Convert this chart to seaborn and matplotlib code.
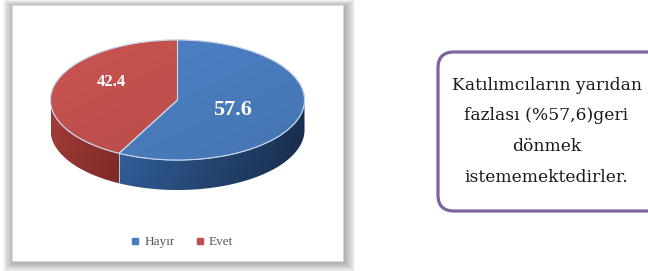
import numpy as np
import matplotlib
matplotlib.use("Agg")
import matplotlib.pyplot as plt
import matplotlib.colors as mcolors
from matplotlib.patches import Rectangle, FancyBboxPatch, Polygon, PathPatch
from matplotlib.lines import Line2D
import seaborn as sns

# ---------------- data ----------------
categories = ["Hayır", "Evet"]
values = [57.6, 42.4]
top_colors = ["#4a7dbf", "#c0504d"]
side_light = ["#3566a6", "#a83d3a"]
side_dark = ["#1b3152", "#8c2f2c"]
note_lines = ["Katılımcıların yarıdan", "fazlası (%57,6)geri", "dönmek", "istememektedirler."]

sns.set_theme(style="white")
plt.rcParams["font.family"] = ["Liberation Serif", "DejaVu Serif"]

W, H = 648, 271
fig = plt.figure(figsize=(W / 100, H / 100), dpi=100)
fig.patch.set_facecolor("white")

# background axes in pixel coordinates
bg = fig.add_axes([0, 0, 1, 1])
bg.set_xlim(0, W)
bg.set_ylim(H, 0)
bg.axis("off")

# chart frame with soft shadow
fx0, fy0, fx1, fy1 = 12, 5, 343, 261
for i in range(12, 0, -1):
    bg.add_patch(Rectangle((fx0 - i * 0.9 + 1.5, fy0 - i * 0.6 + 1.5),
                           (fx1 - fx0) + i * 1.8, (fy1 - fy0) + i * 1.4,
                           facecolor="black", edgecolor="none", alpha=0.026, zorder=1))
bg.add_patch(Rectangle((fx0, fy0), fx1 - fx0, fy1 - fy0, facecolor="white",
                       edgecolor="#d9d9d9", lw=0.6, zorder=2))

# note box
bg.add_patch(FancyBboxPatch((452, 66), 210, 131,
                            boxstyle="round,pad=14,rounding_size=16",
                            facecolor="white", edgecolor="#7f63a1", lw=2.3, zorder=2))
for k, line in enumerate(note_lines):
    bg.text(546.5, 85 + k * 30.7, line, ha="center", va="center",
            fontsize=12.3, color="#1a1a1a", zorder=3, family="DejaVu Serif")

# ---------------- pie axes (elliptical) ----------------
cx, cy, rx, ry = 177.5, 100.0, 127.0, 60.0
depth = 0.5  # in y-units of the pie
xl, xr = -1.05, 1.05
yb, yt = -1.6, 1.05
left_px = cx + xl * rx
top_px = cy - yt * ry
wpx = (xr - xl) * rx
hpx = (yt - yb) * ry
pax = fig.add_axes([left_px / W, (H - (top_px + hpx)) / H, wpx / W, hpx / H])
pax.patch.set_alpha(0)

wedges, _ = pax.pie(values, colors=top_colors, startangle=90, counterclock=False,
                    radius=1.0, wedgeprops=dict(edgecolor="#c9d6ea", linewidth=0.8))
pax.set_aspect("auto")


def arc_pts(t0, t1, n=120):
    t = np.radians(np.linspace(t0, t1, n))
    return np.cos(t), np.sin(t)


# extruded sides (front half, angles 180..360)
for w, cl, cd in zip(wedges, side_light, side_dark):
    a0, a1 = w.theta1, w.theta2
    segs = []
    for shift in (-360, 0, 360):
        lo, hi = max(a0 + shift, 180), min(a1 + shift, 360)
        if hi > lo:
            segs.append((lo, hi))
    for lo, hi in segs:
        xs, ys = arc_pts(lo, hi)
        pts = np.concatenate([np.column_stack([xs, ys]),
                              np.column_stack([xs[::-1], ys[::-1] - depth])])
        poly = Polygon(pts, closed=True, facecolor="none", edgecolor="none", zorder=1)
        pax.add_patch(poly)
        xa, xb = xs.min(), xs.max()
        c1 = np.array(mcolors.to_rgb(cl)); c2 = np.array(mcolors.to_rgb(cd))
        tx = np.linspace(0, 1, 200)[None, :, None]
        ty = np.linspace(0, 1, 60)[:, None, None]
        img = c1 * (1 - tx) + c2 * tx
        img = np.clip(img * (1 - 0.12 * ty), 0, 1)
        im = pax.imshow(img, extent=(xa, xb, -1 - depth, 0.05), origin="upper",
                        aspect="auto", zorder=1, interpolation="bilinear")
        im.set_clip_path(poly)
        for ang in (lo, hi):
            if 180 < ang < 360:
                x = np.cos(np.radians(ang)); y = np.sin(np.radians(ang))
                pax.plot([x, x], [y, y - depth], color="#b8c8e0", lw=0.7, zorder=2)

# gradient shading on the top faces
gy, gx = np.mgrid[0:1:100j, 0:1:100j]
grad = gx * 0.5 + gy * 0.5
for w, c in zip(wedges, top_colors):
    w.set_zorder(3)
    rgb = np.array(mcolors.to_rgb(c))
    shade = 1.05 - 0.12 * grad
    img = np.clip(rgb[None, None, :] * shade[:, :, None], 0, 1)
    im = pax.imshow(img, extent=(-1, 1, -1, 1), origin="upper", aspect="auto",
                    zorder=3.2, interpolation="bilinear")
    im.set_clip_path(w)
    pax.add_patch(PathPatch(w.get_path(), facecolor="none", edgecolor="#c9d6ea",
                            lw=0.8, zorder=3.4, transform=w.get_transform()))

pax.set_xlim(xl, xr)
pax.set_ylim(yb, yt)
pax.axis("off")

# data labels
pax.text(-0.52, 0.30, f"{values[1]:.1f}", ha="center", va="center", color="white",
         fontsize=12, fontweight="bold", zorder=5)
pax.text(0.43, -0.17, f"{values[0]:.1f}", ha="center", va="center", color="white",
         fontsize=16, fontweight="bold", zorder=5)

# legend
handles = [Line2D([0], [0], marker="s", color="none", markerfacecolor=c,
                  markeredgecolor=c, markersize=4) for c in top_colors]
fig.legend(handles, categories, loc="center", bbox_to_anchor=(181 / W, 1 - 242 / H),
           ncol=2, frameon=False, fontsize=9.5, labelcolor="#595959",
           handletextpad=0.2, columnspacing=1.4, handlelength=1.0)

fig.savefig("out.png", dpi=100, facecolor="white")
